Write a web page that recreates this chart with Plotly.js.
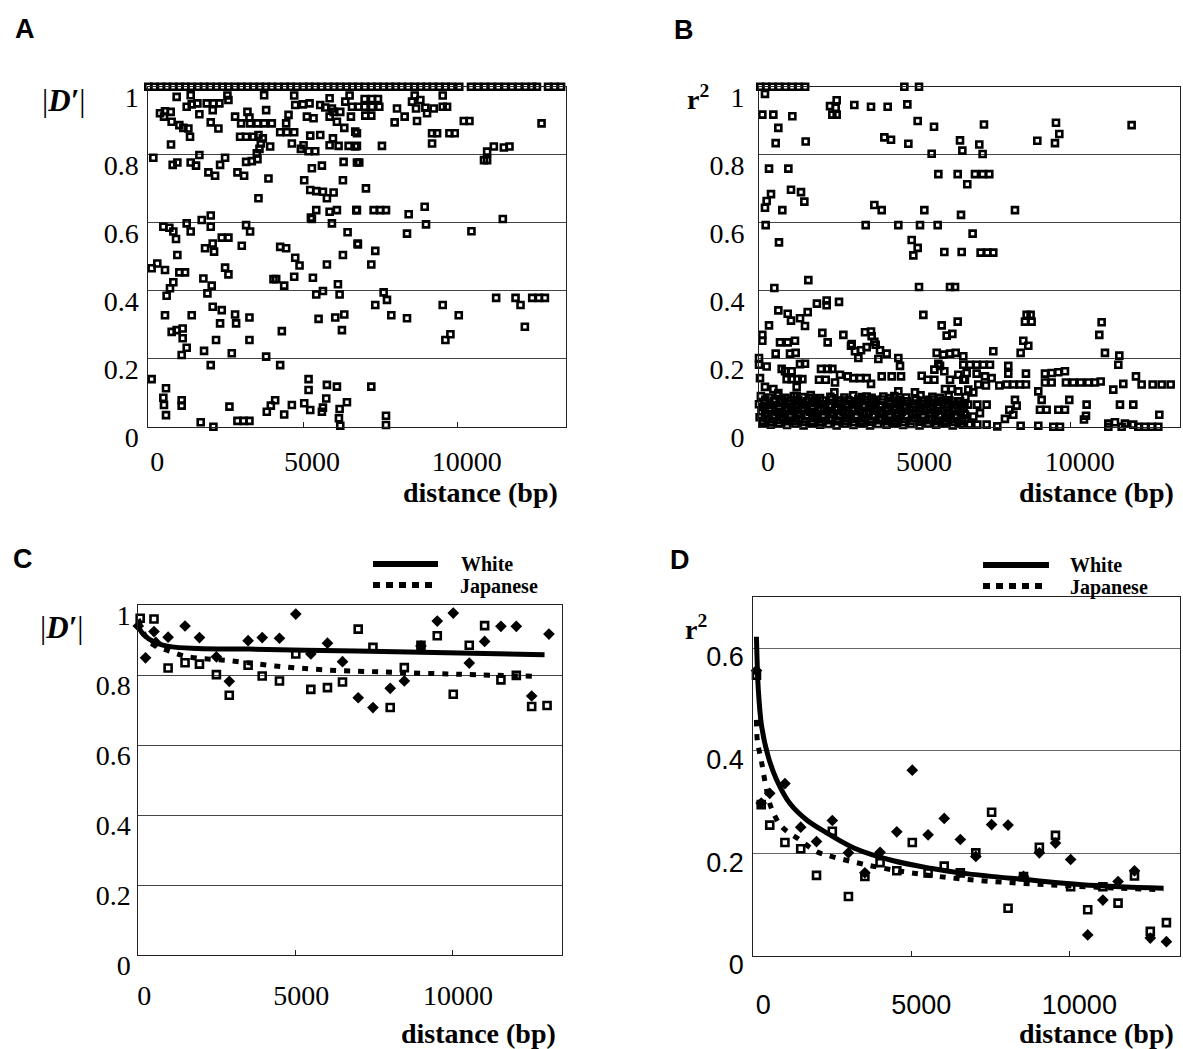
<!DOCTYPE html>
<html><head><meta charset="utf-8">
<script src="https://cdn.plot.ly/plotly-3.0.1.min.js"></script>
<style>html,body{margin:0;padding:0;background:#fff;}#chart{width:1183px;height:1049px;}</style>
</head><body><div id="chart"></div>
<script>
// ---------------- DATA ----------------
const distTicks = [0, 5000, 10000];
const distTickText = ['0', '5000', '10000'];
const unitTicks = [0, 0.2, 0.4, 0.6, 0.8, 1];
const unitTickText = ['0', '0.2', '0.4', '0.6', '0.8', '1'];
const r2dTicks = [0, 0.2, 0.4, 0.6];
const r2dTickText = ['0', '0.2', '0.4', '0.6'];

// Panel A: |D'| vs distance, all marker pairs [distance, |D'|]
const aTopPts = [[0,1],[190,1],[410,1],[600,1],[800,1],[1010,1],[1200,1],[1390,1],[1610,1],[1800,1],[2000,1],[2210,1],[2400,1],[2590,1],[2800,1],[3010,1],[3200,1],[3400,1],[3610,1],[3800,1],[3990,1],[4200,1],[4410,1],[4600,1],[4800,1],[5010,1],[5200,1],[5390,1],[5600,1],[5810,1],[6000,1],[6200,1],[6410,1],[6600,1],[6790,1],[7000,1],[7210,1],[7400,1],[7600,1],[7810,1],[8000,1],[8190,1],[8400,1],[8600,1],[8810,1],[9000,1],[9200,1],[9400,1],[9610,1],[9800,1],[10050,1],[10430,1],[10650,1],[10870,1],[11090,1],[11310,1],[11530,1],[11750,1],[11970,1],[12190,1],[12400,1],[12560,1],[12920,1],[13130,1],[13340,1]];
const aPts = [[917,0.97],[1370,0.975],[2557,0.974],[3744,0.975],[4715,0.974],[5860,0.966],[6506,0.974],
[1241,0.941],[1403,0.948],[1586,0.951],[1888,0.951],[2104,0.951],[2298,0.951],[2082,0.931],[2590,0.961],[3809,0.931],[4748,0.946],[4996,0.948],[5212,0.951],[5557,0.946],[5719,0.939],[5935,0.936],[6366,0.956],[6582,0.941],
[378,0.922],[540,0.928],[723,0.926],[507,0.912],[755,0.897],[1003,0.887],[1133,0.879],[1295,0.877],[1349,0.853],[1651,0.919],[2018,0.895],[2266,0.877],[2805,0.912],[3000,0.892],[3204,0.926],[3269,0.909],[3290,0.892],[3528,0.892],[3744,0.892],[3992,0.892],[4456,0.892],[4532,0.917],[5126,0.912],[5341,0.907],[5860,0.912],[5989,0.926],[6204,0.926],[6096,0.897],[6334,0.879],[6549,0.912],[6689,0.868],
[2967,0.853],[3161,0.853],[3398,0.853],[3560,0.858],[3701,0.848],[3636,0.833],[3938,0.824],[4262,0.866],[4478,0.866],[4715,0.866],[3593,0.817],[3507,0.804],[4640,0.833],[5018,0.828],[4931,0.817],[5180,0.81],[5395,0.81],[5234,0.856],[5557,0.858],[5860,0.828],[5968,0.848],[6150,0.826],[6474,0.826],[6689,0.824],[734,0.83],
[162,0.791],[788,0.77],[939,0.777],[1370,0.777],[1543,0.768],[1651,0.799],[2320,0.77],[2482,0.791],[1942,0.748],[2158,0.738],[2881,0.748],[3097,0.738],[3161,0.779],[3345,0.781],[3528,0.787],[3884,0.73],[3560,0.672],[5039,0.725],[5287,0.76],[5611,0.768],[6312,0.779],[6744,0.777],[6290,0.725],[5234,0.696],[5428,0.693],[5644,0.691],[5773,0.672],[5989,0.689],[5428,0.637],[5287,0.611],[5860,0.632],[6096,0.637],[6722,0.637],[5935,0.598],[5255,0.615],
[486,0.588],[680,0.585],[809,0.574],[896,0.552],[1241,0.598],[1370,0.574],[1726,0.608],[2018,0.621],[2018,0.588],[3161,0.593],[3290,0.574],[2374,0.556],[2590,0.556],[2082,0.539],[1834,0.525],[2126,0.515],[3021,0.532],[939,0.505],[4262,0.529],[4456,0.525],[4748,0.497],[4888,0.474],[5773,0.477],[6290,0.505],[6441,0.572],[6765,0.539],[108,0.466],[291,0.48],[540,0.461],[1003,0.454],[1187,0.454],[2482,0.468],[2590,0.448],[809,0.425],[701,0.407],[593,0.385],[1780,0.436],[2050,0.415],[1910,0.392],[4133,0.434],[4046,0.434],[4392,0.415],[4715,0.441],[5320,0.438],[5428,0.389],[5644,0.399],[6129,0.419],[6183,0.389],
[540,0.328],[1403,0.328],[2082,0.353],[2374,0.343],[2805,0.33],[2838,0.304],[3269,0.321],[2320,0.304],[755,0.279],[917,0.284],[1111,0.289],[1111,0.26],[1241,0.232],[1079,0.211],[2190,0.255],[1802,0.223],[2698,0.216],[3269,0.255],[3809,0.206],[4316,0.281],[2018,0.181],[4262,0.181],[5503,0.317],[6043,0.321],[6334,0.33],[6258,0.284],
[108,0.14],[572,0.113],[486,0.085],[507,0.064],[1079,0.078],[1079,0.062],[572,0.034],[2622,0.059],[1694,0.013],[2104,0.0],[2881,0.017],[3075,0.017],[3269,0.017],[3830,0.044],[3960,0.062],[4100,0.078],[4392,0.036],[4640,0.064],[5180,0.14],[5180,0.108],[5039,0.069],[5234,0.049],[5611,0.044],[5644,0.056],[5751,0.083],[5773,0.123],[6096,0.118],[6183,0.052],[6420,0.072],[6161,0.025],[6204,0.003],
[6991,0.964],[7229,0.964],[7423,0.964],[6797,0.941],[6991,0.941],[7229,0.941],[7466,0.941],[7013,0.915],[7207,0.915],[8038,0.936],[8286,0.912],[7962,0.895],[8610,0.974],[8523,0.956],[8793,0.961],[8653,0.936],[8955,0.938],[9225,0.936],[9009,0.922],[9516,0.974],[9516,0.941],[9656,0.941],[8685,0.899],[10196,0.899],[10379,0.899],[12710,0.892],[9171,0.863],[9333,0.863],[9732,0.863],[9904,0.863],[9171,0.833],[6743,0.863],[6743,0.826],[7552,0.826],[10951,0.809],[10951,0.784],[11167,0.824],[11491,0.821],[11674,0.824],[10850,0.784],
[6818,0.777],[7034,0.701],[6743,0.637],[7283,0.637],[7498,0.637],[7682,0.637],[8415,0.625],[8933,0.647],[8976,0.595],[11458,0.611],
[10444,0.575],[8361,0.568],[6775,0.536],[7336,0.517],[7207,0.477],
[7606,0.395],[7714,0.373],[7336,0.358],[7854,0.328],[8361,0.319],[9516,0.358],[10034,0.328],[9764,0.272],[9602,0.255],[11242,0.379],[11869,0.379],[12030,0.358],[12408,0.379],[12624,0.379],[12818,0.379],[12170,0.294],
[7207,0.118],[7682,0.032],[7682,0.005]];

// Panel B: r^2 vs distance, pairs [distance, r^2]
const bTopPts = [[40,1],[230,1],[430,1],[640,1],[850,1],[1060,1],[1270,1],[1480,1],[4661,1],[5131,1]];
const bPts = [[192,0.979],[107,0.918],[460,0.918],[1069,0.913],[620,0.879],[535,0.834],[1497,0.839],[2277,0.943],[2491,0.96],[2459,0.938],[2352,0.918],[2491,0.918],[3057,0.946],[3592,0.941],[4126,0.941],[4757,0.948],[5088,0.899],[5612,0.882],[4019,0.851],[4233,0.844],[4789,0.832],[5537,0.803],[6446,0.842],[6521,0.812],
[321,0.759],[941,0.759],[385,0.684],[246,0.664],[192,0.644],[748,0.637],[1026,0.697],[1347,0.69],[1454,0.662],[3699,0.652],[3934,0.637],[5302,0.637],[5751,0.743],[6371,0.743],[6478,0.623],
[214,0.593],[3421,0.593],[4468,0.593],[5163,0.593],[5730,0.593],[641,0.542],[4896,0.549],[5088,0.526],[4949,0.504],[5943,0.514],[6499,0.514],
[492,0.408],[1582,0.431],[5131,0.411],[6125,0.411],[6286,0.411],
[2566,0.367],[620,0.342],[920,0.332],[1026,0.312],[1315,0.319],[1561,0.337],[1857,0.362],[2170,0.357],[2170,0.371],[1475,0.296],[321,0.298],[107,0.27],[107,0.253],[2031,0.276],[2202,0.248],[2705,0.27],[3400,0.278],[3592,0.28],[3699,0.25],[2972,0.243],[674,0.248],[920,0.248],[1154,0.253],[5270,0.329],[5858,0.298],[6018,0.268],[6200,0.273],[6371,0.309],
[7214,0.889],[9523,0.894],[9630,0.861],[9491,0.834],[11949,0.887],[8924,0.841],[7064,0.83],[7171,0.802],[6679,0.713],[6925,0.743],[7171,0.743],[7385,0.743],[8208,0.637],[6850,0.568],[7107,0.512],[7321,0.512],[7513,0.512],[8582,0.329],[8710,0.329],[8529,0.309],[8742,0.309],[10987,0.307],[10912,0.27],[8475,0.253],
[535,0.215],[994,0.215],[1176,0.217],[0,0.202],[2950,0.238],[3078,0.222],[3271,0.225],[3453,0.234],[3613,0.266],[3741,0.241],[3880,0.225],[3186,0.202],[3827,0.199],[4094,0.215],[4468,0.202],[4522,0.179],[5698,0.217],[5912,0.212],[6125,0.215],[6307,0.217],[5751,0.185],[5805,0.179],
[0,0.182],[246,0.177],[727,0.17],[887,0.14],[1047,0.14],[1240,0.14],[1390,0.14],[1047,0.163],[834,0.163],[1315,0.184],[1475,0.185],[1988,0.17],[2202,0.17],[2352,0.17],[1924,0.138],[2138,0.138],[2437,0.13],[2598,0.153],[2844,0.148],[3025,0.143],[3239,0.143],[3453,0.143],[3592,0.126],[3934,0.148],[4255,0.148],[4554,0.148],[5217,0.15],[5409,0.138],[5623,0.138],[5623,0.168],[5943,0.163],[6125,0.138],[6392,0.153],[6553,0.138],[5965,0.111],[6179,0.111],
[32,0.143],[192,0.117],[460,0.111],[620,0.099],[1208,0.117],[1208,0.091],[1689,0.084],[1956,0.084],[2416,0.101],[2598,0.077],[3186,0.081],[3453,0.089],[3741,0.079],[3987,0.089],[4201,0.084],[4468,0.104],[4468,0.072],[5002,0.101],[5430,0.079],[5912,0.077],[6392,0.104],[6446,0.075],
[8635,0.238],[8390,0.217],[7513,0.222],[11094,0.217],[11554,0.209],[11522,0.182],[6551,0.207],[6551,0.182],[7994,0.179],[7994,0.156],[8560,0.156],[6765,0.182],[6979,0.182],[7193,0.182],[7407,0.182],[6658,0.158],[6979,0.156],[7246,0.148],[7460,0.143],[6604,0.138],[6711,0.109],[6872,0.101],[7032,0.124],[7278,0.121],[7706,0.121],[7941,0.124],[8155,0.124],[8369,0.124],[8560,0.124],[9170,0.156],[9384,0.158],[9598,0.16],[9811,0.163],[9170,0.13],[9384,0.13],[9843,0.13],[10079,0.13],[10314,0.13],[10560,0.13],[10774,0.13],[10956,0.133],[11361,0.109],[11682,0.126],[12088,0.148],[12270,0.124],[12623,0.124],[12912,0.124],[13200,0.124],[8956,0.104],[9063,0.079],[9010,0.05],[9223,0.05],[9598,0.05],[9811,0.05],[9950,0.079],[10506,0.065],[10485,0.032],[10421,0.021],[11575,0.065],[12002,0.065],[8208,0.079],[8262,0.062],[8026,0.05],[7887,0.023],[8155,0.035],[6444,0.065],[6711,0.065],[7000,0.065],[7300,0.065],[6604,0.035],[6872,0.03],[7085,0.04],[6551,0.006],[6765,0.006],[7000,0.006],[7300,0.006],[7641,0.001],[8390,0.003],[8956,0.003],[9437,0.0],[9651,0.0],[11201,0.009],[11415,0.013],[11629,0.0],[11735,0.009],[12002,0.006],[12163,0.0],[12377,0.0],[12591,0.0],[12805,0.0],[12837,0.035],[11201,0.0]];
// Panel B dense low-r^2 band (0-6800 bp)
const bDensePts = [[60,0.09],[330,0.086],[590,0.092],[850,0.085],[1120,0.09],[1400,0.087],[1660,0.093],[2290,0.088],[2740,0.086],[3020,0.092],[3300,0.087],[3610,0.085],[4340,0.09],[4720,0.086],[5180,0.092],[5560,0.088],[5800,0.085],[6080,0.09],[6620,0.087],
[200,0.079],[470,0.076],[730,0.08],[990,0.077],[1260,0.079],[1530,0.075],[1800,0.079],[2060,0.077],[2330,0.08],[2600,0.076],[2870,0.078],[3140,0.075],[3410,0.079],[3680,0.077],[3950,0.08],[4210,0.076],[4480,0.078],[4750,0.075],[5020,0.079],[5290,0.077],[5560,0.08],[5830,0.076],[6100,0.078],[6370,0.075],
[0,0.066],[180,0.07],[440,0.064],[700,0.07],[960,0.066],[1250,0.068],[1510,0.064],[1780,0.07],[2050,0.066],[2320,0.062],[2560,0.068],[2860,0.066],[3120,0.07],[3400,0.064],[3660,0.068],[3930,0.062],[4180,0.07],[4460,0.066],[4700,0.062],[4980,0.068],[5250,0.066],[5520,0.07],[5780,0.064],[6050,0.068],[6330,0.064],[6590,0.066],
[110,0.057],[380,0.055],[650,0.059],[910,0.056],[1180,0.058],[1450,0.054],[1720,0.057],[1990,0.055],[2250,0.059],[2520,0.056],[2790,0.057],[3060,0.054],[3330,0.058],[3600,0.056],[3870,0.059],[4140,0.055],[4400,0.057],[4670,0.054],[4940,0.058],[5210,0.056],[5480,0.059],[5750,0.055],[6020,0.057],[6290,0.054],[6560,0.058],
[80,0.046],[330,0.05],[590,0.044],[850,0.048],[1110,0.046],[1370,0.05],[1640,0.044],[1900,0.048],[2180,0.046],[2440,0.05],[2710,0.044],[2980,0.048],[3250,0.046],[3520,0.042],[3790,0.048],[4060,0.046],[4320,0.05],[4580,0.044],[4850,0.048],[5120,0.046],[5390,0.05],[5650,0.044],[5920,0.048],[6200,0.046],[6470,0.042],
[200,0.037],[460,0.035],[720,0.039],[990,0.036],[1250,0.038],[1520,0.034],[1780,0.037],[2050,0.035],[2320,0.039],[2580,0.036],[2850,0.038],[3110,0.034],[3380,0.037],[3650,0.035],[3910,0.039],[4180,0.036],[4450,0.038],[4710,0.034],[4980,0.037],[5250,0.035],[5510,0.039],[5780,0.036],[6050,0.038],[6310,0.034],[6580,0.037],
[20,0.028],[250,0.024],[500,0.03],[760,0.026],[1020,0.028],[1290,0.024],[1550,0.03],[1810,0.026],[2070,0.028],[2340,0.024],[2600,0.03],[2870,0.026],[3130,0.028],[3400,0.024],[3670,0.03],[3930,0.026],[4200,0.028],[4470,0.024],[4730,0.03],[5000,0.026],[5270,0.028],[5540,0.024],[5800,0.03],[6070,0.026],[6340,0.028],[6620,0.024],
[130,0.017],[400,0.015],[660,0.019],[930,0.016],[1190,0.018],[1460,0.014],[1720,0.017],[1990,0.015],[2260,0.019],[2520,0.016],[2790,0.018],[3050,0.014],[3320,0.017],[3590,0.015],[3850,0.019],[4120,0.016],[4390,0.018],[4650,0.014],[4920,0.017],[5190,0.015],[5450,0.019],[5720,0.016],[5990,0.018],[6250,0.014],[6520,0.017],
[120,0.01],[380,0.006],[640,0.01],[900,0.005],[1170,0.009],[1430,0.004],[1700,0.01],[1960,0.006],[2230,0.008],[2490,0.004],[2760,0.009],[3030,0.005],[3290,0.01],[3560,0.004],[3820,0.008],[4090,0.006],[4350,0.01],[4620,0.005],[4880,0.008],[5150,0.004],[5420,0.009],[5680,0.006],[5950,0.01],[6210,0.004],[6480,0.008],[6740,0.006]];

// Panel C: binned |D'| (White = filled diamonds, Japanese = open squares) and fitted curves
const cWhiteX = [0,230,500,560,950,1490,1950,2490,2900,3500,3950,4500,5020,5500,6030,6510,7010,7480,8030,8480,9010,9530,10040,10550,11040,11560,12050,12540,13090];
const cWhiteY = [0.94,0.849,0.924,0.893,0.908,0.94,0.907,0.852,0.782,0.898,0.907,0.905,0.974,0.86,0.891,0.838,0.735,0.707,0.762,0.783,0.883,0.954,0.977,0.834,0.896,0.939,0.939,0.74,0.917];
const cJapX = [60,500,950,1490,1950,2490,2900,3500,3950,4500,5020,5500,6030,6510,7010,7480,8030,8480,9010,9530,10040,10550,11040,11560,12050,12540,13030];
const cJapY = [0.962,0.96,0.82,0.835,0.831,0.801,0.742,0.828,0.797,0.783,0.86,0.759,0.764,0.78,0.931,0.879,0.707,0.821,0.885,0.912,0.745,0.885,0.941,0.786,0.799,0.71,0.713];
const cWhiteFitX = [0,170,540,1030,1890,3490,5330,7790,10250,12950];
const cWhiteFitY = [0.938,0.915,0.893,0.881,0.876,0.874,0.871,0.867,0.863,0.858];
const cJapFitX = [0,200,500,970,1520,3000,4350,5880,7670,10250,12700];
const cJapFitY = [0.96,0.915,0.885,0.869,0.853,0.84,0.826,0.815,0.809,0.802,0.796];

// Panel D: binned r^2 and fitted curves
const dWhiteX = [100,250,520,1000,1500,2000,2500,3010,3530,4010,4540,5030,5530,6040,6550,7040,7540,8060,8550,9050,9560,10040,10580,11060,11540,12060,12560,13070];
const dWhiteY = [0.556,0.298,0.317,0.336,0.251,0.223,0.264,0.201,0.162,0.202,0.242,0.362,0.236,0.268,0.227,0.194,0.256,0.255,0.155,0.201,0.22,0.188,0.041,0.109,0.145,0.166,0.035,0.028];
const dJapX = [100,250,520,1000,1500,2000,2500,3010,3530,4010,4540,5030,5530,6040,6550,7040,7540,8060,8550,9050,9560,10040,10580,11060,11540,12060,12560,13070];
const dJapY = [0.547,0.295,0.255,0.221,0.209,0.157,0.243,0.116,0.155,0.182,0.166,0.221,0.162,0.175,0.162,0.201,0.28,0.093,0.155,0.212,0.235,0.135,0.09,0.135,0.103,0.156,0.048,0.065];
const dWhiteFitX = [100,160,265,475,740,1160,1690,2320,3200,4400,5600,6800,8600,10400,12980];
const dWhiteFitY = [0.622,0.518,0.447,0.388,0.343,0.297,0.265,0.24,0.21,0.186,0.171,0.16,0.149,0.139,0.132];
const dJapFitX = [100,130,250,360,560,900,1480,2010,2470,3550,4990,6790,9200,11600,12980];
const dJapFitY = [0.46,0.418,0.382,0.343,0.29,0.252,0.226,0.203,0.194,0.178,0.162,0.149,0.139,0.132,0.129];

const seriesNames = ['White', 'Japanese'];

// ---------------- LAYOUT HELPERS ----------------
const W = 1183, H = 1049;
const px = v => v / W;
const py = v => 1 - v / H;
const SERIF = 'Liberation Serif, Times New Roman, serif';
const SANS = 'Liberation Sans, Arial, sans-serif';

function xAxis(l, r, anchor, family, size, standoff, shift) {
  return {domain: [px(l), px(r)], anchor: anchor, range: [0, 13500],
    tickmode: 'array', tickvals: distTicks, ticktext: distTickText,
    ticks: 'inside', ticklen: 5, tickcolor: '#222', tickwidth: 1,
    showgrid: false, zeroline: false, showline: true, linecolor: '#222', linewidth: 1, mirror: true,
    tickfont: {family: family, size: size, color: '#000'},
    ticklabelstandoff: standoff, ticklabelshift: shift, fixedrange: true};
}
function yAxis(top, bottom, anchor, range, vals, text, family, size, standoff, shift, grid) {
  return {domain: [py(bottom), py(top)], anchor: anchor, range: range,
    tickmode: 'array', tickvals: vals, ticktext: text, ticks: '',
    showgrid: true, gridcolor: grid, gridwidth: 1,
    zeroline: false, showline: true, linecolor: '#222', linewidth: 1, mirror: true,
    tickfont: {family: family, size: size, color: '#000'},
    ticklabelstandoff: standoff, ticklabelshift: shift, fixedrange: true};
}
const sqSmall = {symbol: 'square-open', size: 6, color: '#000', line: {width: 2.6, color: '#000'}};
const sqBig = {symbol: 'square-open', size: 7, color: '#000', line: {width: 2.6, color: '#000'}};
const diam = {symbol: 'diamond', size: 9, color: '#000', line: {width: 0}};
function pts(arr, ax, ay, marker, name) {
  return {x: arr.map(p => p[0]), y: arr.map(p => p[1]), xaxis: ax, yaxis: ay, type: 'scatter', mode: 'markers',
    marker: marker, cliponaxis: false, showlegend: false, hoverinfo: 'skip', name: name};
}

const traces = [
  pts(aTopPts, 'x', 'y', sqSmall, "|D'| = 1"),
  pts(aPts, 'x', 'y', sqSmall, "|D'|"),
  pts(bTopPts, 'x2', 'y2', sqSmall, 'r2 = 1'),
  pts(bPts, 'x2', 'y2', sqSmall, 'r2'),
  pts(bDensePts, 'x2', 'y2', sqSmall, 'r2 (dense)'),
  {x: cJapX, y: cJapY, xaxis: 'x3', yaxis: 'y3', mode: 'markers', marker: sqBig, cliponaxis: false, showlegend: false, hoverinfo: 'skip', name: seriesNames[1]},
  {x: cWhiteX, y: cWhiteY, xaxis: 'x3', yaxis: 'y3', mode: 'markers', marker: diam, cliponaxis: false, showlegend: false, hoverinfo: 'skip', name: seriesNames[0]},
  {x: cWhiteFitX, y: cWhiteFitY, xaxis: 'x3', yaxis: 'y3', mode: 'lines', line: {color: '#000', width: 5, shape: 'spline', smoothing: 1}, cliponaxis: false, showlegend: false, hoverinfo: 'skip', name: seriesNames[0] + ' fit'},
  {x: cJapFitX, y: cJapFitY, xaxis: 'x3', yaxis: 'y3', mode: 'lines', line: {color: '#000', width: 5, dash: '6px,8px', shape: 'spline', smoothing: 1}, cliponaxis: false, showlegend: false, hoverinfo: 'skip', name: seriesNames[1] + ' fit'},
  {x: dJapX, y: dJapY, xaxis: 'x4', yaxis: 'y4', mode: 'markers', marker: sqBig, cliponaxis: false, showlegend: false, hoverinfo: 'skip', name: seriesNames[1]},
  {x: dWhiteX, y: dWhiteY, xaxis: 'x4', yaxis: 'y4', mode: 'markers', marker: diam, cliponaxis: false, showlegend: false, hoverinfo: 'skip', name: seriesNames[0]},
  {x: dWhiteFitX, y: dWhiteFitY, xaxis: 'x4', yaxis: 'y4', mode: 'lines', line: {color: '#000', width: 5, shape: 'spline', smoothing: 1}, cliponaxis: false, showlegend: false, hoverinfo: 'skip', name: seriesNames[0] + ' fit'},
  {x: dJapFitX, y: dJapFitY, xaxis: 'x4', yaxis: 'y4', mode: 'lines', line: {color: '#000', width: 5, dash: '6px,8px', shape: 'spline', smoothing: 1}, cliponaxis: false, showlegend: false, hoverinfo: 'skip', name: seriesNames[1] + ' fit'}
];

function ann(text, x, y, family, size, xanchor) {
  return {text: text, x: px(x), y: py(y), xref: 'paper', yref: 'paper', showarrow: false,
    xanchor: xanchor || 'center', yanchor: 'middle', font: {family: family, size: size, color: '#000'}};
}
const annotations = [
  ann('<b>A</b>', 24.5, 29, SANS, 27), ann('<b>B</b>', 683.5, 30, SANS, 27),
  ann('<b>C</b>', 22.5, 559, SANS, 27), ann('<b>D</b>', 680, 560, SANS, 27),
  ann('|<b><i>D′</i></b>|', 64, 100, SERIF, 31), ann('|<b><i>D′</i></b>|', 62, 627, SERIF, 31),
  ann('<b>r<sup>2</sup></b>', 698, 98, SERIF, 28), ann('<b>r<sup>2</sup></b>', 696, 627, SERIF, 28),
  ann('<b>distance (bp)</b>', 480, 493, SERIF, 28), ann('<b>distance (bp)</b>', 1096, 493, SERIF, 28),
  ann('<b>distance (bp)</b>', 478, 1033, SERIF, 28), ann('<b>distance (bp)</b>', 1096, 1033, SERIF, 28),
  ann('<b>' + seriesNames[0] + '</b>', 459, 564, SERIF, 20, 'left'), ann('<b>' + seriesNames[1] + '</b>', 458, 586, SERIF, 20, 'left'),
  ann('<b>' + seriesNames[0] + '</b>', 1068, 565, SERIF, 20, 'left'), ann('<b>' + seriesNames[1] + '</b>', 1068, 587, SERIF, 20, 'left')
];
function hline(x0, x1, y, dash) {
  return {type: 'line', xref: 'paper', yref: 'paper', x0: px(x0), x1: px(x1), y0: py(y), y1: py(y),
    line: {color: '#000', width: 6, dash: dash || 'solid'}};
}
const shapes = [
  hline(373, 438, 564), hline(373, 434, 585, '7px,6px'),
  hline(983, 1049, 565), hline(983, 1044, 586, '7px,6px')
];

const layout = {
  width: W, height: H, autosize: false,
  margin: {l: 0, r: 0, t: 0, b: 0, pad: 0},
  paper_bgcolor: '#fff', plot_bgcolor: 'rgba(0,0,0,0)',
  showlegend: false,
  xaxis: xAxis(148.3, 566, 'y', SERIF, 28, 10, 9),
  yaxis: yAxis(86.7, 426.7, 'x', [0, 1], unitTicks, unitTickText, SERIF, 28, 3, 10, '#444'),
  xaxis2: xAxis(759, 1180, 'y2', SERIF, 28, 10, 9),
  yaxis2: yAxis(86.7, 426.7, 'x2', [0, 1], unitTicks, unitTickText, SERIF, 28, 8, 10, '#444'),
  xaxis3: xAxis(138.3, 561.8, 'y3', SERIF, 28, 15, 6),
  yaxis3: yAxis(605, 955, 'x3', [0, 1], unitTicks, unitTickText, SERIF, 28, 1, 10, '#444'),
  xaxis4: xAxis(753.3, 1180, 'y4', SANS, 27, 25, 10),
  yaxis4: yAxis(596.7, 956, 'x4', [0, 0.7], r2dTicks, r2dTickText, SANS, 27, 3, 9, '#666'),
  annotations: annotations,
  shapes: shapes
};
Plotly.newPlot('chart', traces, layout, {staticPlot: true, displayModeBar: false});
</script></body></html>
